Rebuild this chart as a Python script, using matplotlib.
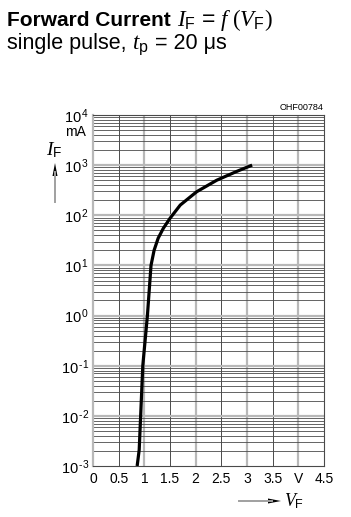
import numpy as np
import matplotlib
matplotlib.use("Agg")
import matplotlib.pyplot as plt
from matplotlib.ticker import FixedLocator, NullFormatter

plt.rcParams['font.family'] = ['Liberation Sans', 'DejaVu Sans']
plt.rcParams['mathtext.fontset'] = 'custom'
plt.rcParams['mathtext.it'] = 'Liberation Serif:italic'
plt.rcParams['mathtext.rm'] = 'Liberation Serif'
plt.rcParams['mathtext.sf'] = 'Liberation Sans'

# forward voltage (V) vs forward current (mA)
v_f = [0.86, 0.90, 0.97, 1.06, 1.13, 1.19, 1.27, 1.37, 1.50, 1.70, 2.02, 2.41, 2.80, 3.10]
i_f = [1e-3, 2.1e-3, 0.1, 1.0, 10, 20, 35, 55, 87, 160, 295, 500, 750, 1000]

x_ticks = [0, 0.5, 1, 1.5, 2, 2.5, 3, 3.5, 4, 4.5]
x_labels = ['0', '0.5', '1', '1.5', '2', '2.5', '3', '3.5', 'V', '4.5']
y_decades = [-3, -2, -1, 0, 1, 2, 3, 4]

W, H = 351, 517
fig = plt.figure(figsize=(W / 100, H / 100), dpi=100)

def px(x, y):
    return x / W, 1 - y / H

# axes box in pixels: left 93, right 324, top 115, bottom 466
ax = fig.add_axes([93 / W, 1 - 466 / H, (324 - 93) / W, (466 - 115) / H])
ax.set_yscale('log')
ax.set_xlim(0, 4.5)
ax.set_ylim(1e-3, 1e4)

light = '#b8b8b8'
dark = '#4a4a4a'

# vertical grid
for x in x_ticks[1:-1]:
    if float(x).is_integer():
        ax.axvline(x, color=light, lw=1.6, zorder=1)
    else:
        ax.axvline(x, color=dark, lw=0.7, zorder=1)
# horizontal grid
for d in y_decades[:-1]:
    for m in range(2, 10):
        ax.axhline(m * 10.0 ** d, color=dark, lw=0.6, zorder=1)
    if d > y_decades[0]:
        ax.axhline(10.0 ** d, color=light, lw=1.6, zorder=1)

ax.plot(v_f, i_f, color='black', lw=2.3, zorder=3, solid_capstyle='butt')

for side in ['top', 'bottom', 'right']:
    ax.spines[side].set_color(dark)
    ax.spines[side].set_linewidth(0.8)
ax.spines['left'].set_color(light)
ax.spines['left'].set_linewidth(1.6)

ax.set_xticks(x_ticks)
ax.set_xticklabels(x_labels)
ax.yaxis.set_major_locator(FixedLocator([10.0 ** d for d in y_decades]))
ax.yaxis.set_minor_formatter(NullFormatter())
ax.set_yticklabels([r'$\mathregular{10^{\,%s}}$' % str(d).replace('-', '\u2010') for d in y_decades])
ax.tick_params(axis='both', which='both', length=0, labelsize=10, pad=4)
ax.tick_params(axis='y', pad=3)
for lab in ax.get_yticklabels():
    lab.set_fontsize(10.5)

# unit and code
fig.text(*px(75, 132), 'mA', ha='center', va='center', fontsize=10)
fig.text(*px(324, 110), 'OHF00784', ha='right', va='baseline', fontsize=6.5)

# y axis label with arrow
fig.text(*px(54, 150), r'$I_{\mathsf{F}}$', ha='center', va='center', fontsize=14)
ax_arr = fig.add_axes([0, 0, 1, 1], facecolor='none')
ax_arr.set_axis_off()
ax_arr.set_xlim(0, W)
ax_arr.set_ylim(H, 0)
ax_arr.plot([55, 55], [172, 202], color='#a0a0a0', lw=1.4)
ax_arr.fill([55, 52.5, 57.5], [163, 176, 176], color='black', lw=0)
ax_arr.plot([239, 272], [501, 501], color='#a0a0a0', lw=1.4)
ax_arr.fill([281, 268, 268], [501, 498.5, 503.5], color='black', lw=0)
fig.text(*px(284, 501), r'$V_{\mathsf{F}}$', ha='left', va='center', fontsize=13)

# title lines
r = fig.canvas.get_renderer()
t1 = fig.text(*px(7, 26), 'Forward Current', fontsize=15, fontweight='bold', va='baseline')
bb = t1.get_window_extent(r)
fig.text(bb.x1 / W + 6 / W, 1 - 26 / H,
         r'$I_{\mathsf{F}}\,\mathsf{=}\,f\ (V_{\mathsf{F}})$', fontsize=16.5, va='baseline')
t2 = fig.text(*px(7, 49), 'single pulse, ', fontsize=15.5, va='baseline')
bb = t2.get_window_extent(r)
t3 = fig.text(bb.x1 / W, 1 - 49 / H, r'$t_{\mathsf{p}}$', fontsize=16.5, va='baseline')
bb = t3.get_window_extent(r)
fig.text(bb.x1 / W, 1 - 49 / H, ' = 20 \u03bcs', fontsize=15.5, va='baseline')

fig.savefig('out.png', dpi=100)
